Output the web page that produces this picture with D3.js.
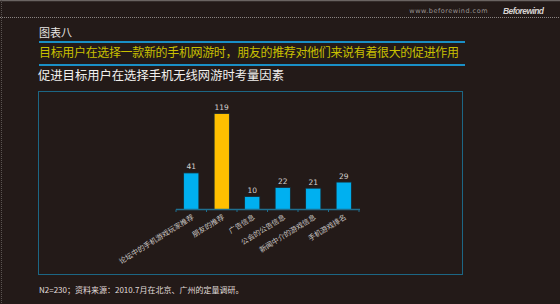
<!DOCTYPE html>
<html>
<head>
<meta charset="utf-8">
<script src="https://cdn.jsdelivr.net/npm/d3@7"></script>
<style>
  html, body { margin: 0; padding: 0; background: #231a18; }
  svg { display: block; }
</style>
</head>
<body>
<div id="plot"></div>
<script>
// chart data
const categories = ["论坛中的手机游戏玩家推荐", "朋友的推荐", "广告信息", "公会的公告信息", "新闻中介的游戏信息", "手机游戏排名"];
const values = [41, 119, 10, 22, 21, 29];
const highlight = "朋友的推荐";

const header_label = "图表八";
const headline = "目标用户在选择一款新的手机网游时，朋友的推荐对他们来说有着很大的促进作用";
const subtitle = "促进目标用户在选择手机无线网游时考量因素";
const footnote = "N2=230；资料来源：2010.7月在北京、广州的定量调研。";

const width = 560;
const height = 304;
const font = "'Noto Sans CJK SC', 'Noto Sans', sans-serif";

const svg = d3.select("#plot").append("svg")
    .attr("width", width)
    .attr("height", height);

svg.append("rect")
    .attr("width", width).attr("height", height)
    .attr("fill", "#231a18");

// page frame: top rule, header rule, left edge
svg.append("line")
    .attr("x1", 0).attr("x2", width).attr("y1", 0.5).attr("y2", 0.5)
    .attr("stroke", "#6a6462").attr("stroke-width", 1.5);
svg.append("line")
    .attr("x1", 0).attr("x2", width).attr("y1", 17.5).attr("y2", 17.5)
    .attr("stroke", "#8a8482").attr("stroke-dasharray", "1,1");
svg.append("line")
    .attr("x1", 1.5).attr("x2", 1.5).attr("y1", 0).attr("y2", height)
    .attr("stroke", "#5a5452").attr("stroke-dasharray", "1,1");

svg.append("text")
    .attr("x", 488).attr("y", 13)
    .attr("text-anchor", "end")
    .attr("font-family", "'DejaVu Sans', sans-serif")
    .attr("font-size", 6.5)
    .attr("letter-spacing", 0.5)
    .attr("fill", "#9a9492")
    .text("www.beforewind.com");
svg.append("text")
    .attr("x", 503).attr("y", 13.5)
    .attr("font-family", "'Liberation Sans', sans-serif")
    .attr("font-size", 8.5)
    .attr("font-weight", "bold")
    .attr("font-style", "italic")
    .attr("textLength", 41)
    .attr("fill", "#d8d4d2")
    .text("Beforewind");

// titles
svg.append("text")
    .attr("x", 39).attr("y", 37)
    .attr("font-family", font).attr("font-size", 11)
    .attr("fill", "#e8e6e4")
    .text(header_label);

svg.selectAll("line.rule")
    .data([42, 65])
    .join("line")
    .attr("class", "rule")
    .attr("x1", 39).attr("x2", 465)
    .attr("y1", d => d).attr("y2", d => d)
    .attr("stroke", "#1a8fc6").attr("stroke-width", 2);

svg.append("text")
    .attr("x", 39).attr("y", 57)
    .attr("font-family", font).attr("font-size", 12)
    .attr("textLength", 420)
    .attr("fill", "#c9c000")
    .text(headline);

svg.append("text")
    .attr("x", 38).attr("y", 80)
    .attr("font-family", font).attr("font-size", 12.3)
    .attr("fill", "#f2f0ee")
    .text(subtitle);

// chart box
svg.append("rect")
    .attr("x", 38.5).attr("y", 91.5)
    .attr("width", 424).attr("height", 183)
    .attr("fill", "none")
    .attr("stroke", "#1c6684").attr("stroke-width", 1);

const x = d3.scaleBand()
    .domain(categories)
    .range([176, 359])
    .paddingInner(0.5)
    .paddingOuter(0.25);

const y = d3.scaleLinear()
    .domain([-7, 119])
    .range([209.5, 113.5]);

const base = 209.5;

svg.append("g")
    .selectAll("rect")
    .data(values)
    .join("rect")
    .attr("x", (d, i) => x(categories[i]))
    .attr("y", d => y(d))
    .attr("width", x.bandwidth())
    .attr("height", d => base - y(d))
    .attr("fill", (d, i) => categories[i] === highlight ? "#ffc000" : "#00b0f0")
    .attr("stroke", "#1a2a30")
    .attr("stroke-width", 0.8);

// axis line with ticks between categories
const step = x.step();
const axis_g = svg.append("g");
axis_g.append("line")
    .attr("x1", 176).attr("x2", 360)
    .attr("y1", base).attr("y2", base)
    .attr("stroke", "#1f6f8f").attr("stroke-width", 1.5);
axis_g.selectAll("line.tick")
    .data(d3.range(categories.length + 1))
    .join("line")
    .attr("class", "tick")
    .attr("x1", i => 176 + i * step).attr("x2", i => 176 + i * step)
    .attr("y1", base).attr("y2", base + 2.5)
    .attr("stroke", "#1f6f8f").attr("stroke-width", 1);

// value labels
svg.append("g")
    .attr("font-family", "'DejaVu Sans', sans-serif")
    .attr("font-size", 7.5)
    .attr("fill", "#d6d2d0")
    .attr("text-anchor", "middle")
    .selectAll("text")
    .data(values)
    .join("text")
    .attr("x", (d, i) => x(categories[i]) + x.bandwidth() / 2)
    .attr("y", d => y(d) - 3.5)
    .text(d => d);

// rotated category labels
svg.append("g")
    .attr("font-family", font)
    .attr("font-size", 7.2)
    .attr("fill", "#c8c4c2")
    .attr("text-anchor", "end")
    .selectAll("text")
    .data(categories)
    .join("text")
    .attr("transform", d => `translate(${x(d) + x.bandwidth() / 2 + 3},${base + 9}) rotate(-32)`)
    .text(d => d);

// footnote
svg.append("text")
    .attr("x", 39).attr("y", 293)
    .attr("font-family", font).attr("font-size", 8)
    .attr("fill", "#e0dcda")
    .text(footnote);
</script>
</body>
</html>
